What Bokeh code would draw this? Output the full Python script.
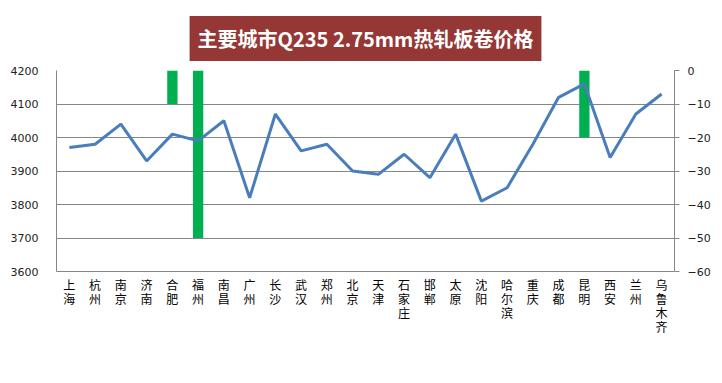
from bokeh.plotting import figure
from bokeh.models import (FactorRange, Range1d, LinearAxis, CategoricalAxis, Legend, LegendItem,
                          FixedTicker, ColumnDataSource, Title, CustomJSTickFormatter)
from bokeh.embed import file_html
from bokeh.resources import INLINE

cities = ["上海", "杭州", "南京", "济南", "合肥", "福州", "南昌", "广州", "长沙", "武汉",
          "郑州", "北京", "天津", "石家庄", "邯郸", "太原", "沈阳", "哈尔滨", "重庆", "成都",
          "昆明", "西安", "兰州", "乌鲁木齐"]
prices = [3970, 3980, 4040, 3930, 4010, 3990, 4050, 3820, 4070, 3960,
          3980, 3900, 3890, 3950, 3880, 4010, 3810, 3850, 3980, 4120,
          4160, 3940, 4070, 4130]
changes = [0, 0, 0, 0, -10, -50, 0, 0, 0, 0,
           0, 0, 0, 0, 0, 0, 0, 0, 0, 0,
           -20, 0, 0, 0]
price_ticks = [3600, 3700, 3800, 3900, 4000, 4100, 4200]
change_ticks = [-60, -50, -40, -30, -20, -10, 0]
title_text = "主要城市Q235 2.75mm热轧板卷价格"
legend_bar = "涨跌幅"
legend_line = "4月9日"

src = ColumnDataSource(dict(city=cities, price=prices, chg=changes, zero=[0] * len(cities)))

GRID = "#868686"
p = figure(frame_width=618, frame_height=201, x_range=FactorRange(*cities),
           y_range=Range1d(3600, 4200), output_backend="svg", toolbar_location=None,
           x_axis_location=None,
           min_border_left=56, min_border_right=48, min_border_top=70, min_border_bottom=0)
p.extra_y_ranges = {"chg": Range1d(-60, 0)}
p.outline_line_color = None
p.background_fill_color = "white"
p.border_fill_color = "white"

# title
p.title = Title(text=title_text, align="center", text_color="white",
                text_font="Noto Sans CJK SC", text_font_style="bold", text_font_size="20px",
                background_fill_color="#953735", padding=8, standoff=19, offset=-5)

# grid
p.xgrid.grid_line_color = None
p.ygrid.grid_line_color = GRID
p.ygrid.grid_line_width = 1
p.ygrid.ticker = FixedTicker(ticks=price_ticks)

# left axis
ya = p.yaxis[0]
ya.ticker = FixedTicker(ticks=price_ticks)
ya.axis_line_color = GRID
ya.major_tick_line_color = None
ya.minor_tick_line_color = None
ya.major_label_standoff = 12
ya.major_label_text_font = "DejaVu Sans"
ya.major_label_text_font_size = "11px"
ya.major_label_text_color = "#222222"

# right axis
ra = LinearAxis(y_range_name="chg", ticker=FixedTicker(ticks=change_ticks))
ra.axis_line_color = GRID
ra.major_tick_line_color = GRID
ra.major_tick_out = 5
ra.major_tick_in = 0
ra.minor_tick_line_color = None
ra.major_label_standoff = 8
ra.major_label_text_font = "DejaVu Sans"
ra.major_label_text_font_size = "11px"
ra.major_label_text_color = "#222222"
p.add_layout(ra, "right")

# x axis: one axis per character row (city names are written vertically)
for row in range(4):
    xa = CategoricalAxis()
    xa.formatter = CustomJSTickFormatter(args=dict(row=row),
                                         code="return tick.length > row ? tick[row] : ' ';")
    xa.axis_line_color = GRID if row == 0 else None
    xa.major_tick_line_color = None
    xa.minor_tick_line_color = None
    xa.major_tick_out = 0
    xa.major_tick_in = 0
    xa.major_label_standoff = 4 if row == 0 else -6
    xa.major_label_text_font = "Noto Sans CJK SC"
    xa.major_label_text_font_size = "12px"
    xa.major_label_text_line_height = 1.0
    xa.major_label_text_color = "#000000"
    p.add_layout(xa, "below")

bars = p.vbar(x="city", top="zero", bottom="chg", width=0.4, source=src,
              y_range_name="chg", fill_color="#00b050", line_color=None)
line = p.line(x="city", y="price", source=src, line_color="#4a7ebb", line_width=3)

legend = Legend(items=[LegendItem(label=legend_bar, renderers=[bars]),
                       LegendItem(label=legend_line, renderers=[line])],
                orientation="horizontal", location="center",
                glyph_width=26, glyph_height=8, label_text_font="Noto Sans CJK SC",
                label_text_font_size="12px", label_text_color="#000000",
                spacing=14, label_standoff=3,
                background_fill_alpha=0, border_line_color=None, padding=0, margin=0)
p.add_layout(legend, "below")

open("out.html", "w").write(file_html(p, INLINE))
